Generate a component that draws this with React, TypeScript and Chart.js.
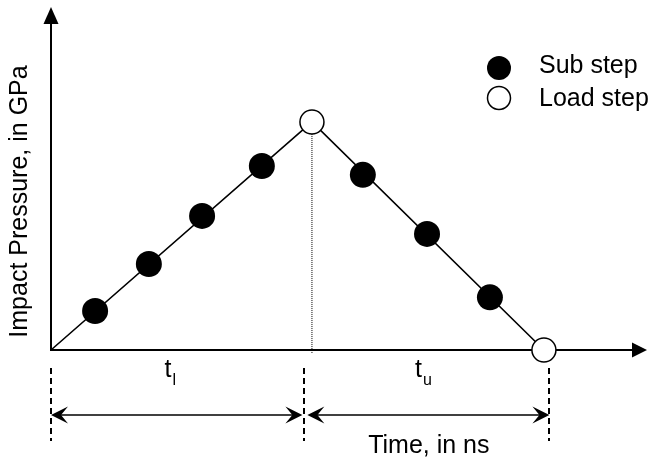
import React, { useEffect, useRef } from "react";
import { Chart, registerables } from "chart.js";

Chart.register(...registerables);

// Data (arbitrary units: time in ns-like units, pressure in GPa-like units)
const pathX = [0, 10, 18.89];
const pathY = [0, 10, 0];
const subStepX = [1.69, 3.75, 5.79, 8.08, 11.95, 14.41, 16.82];
const subStepY = [1.71, 3.77, 5.88, 8.07, 7.68, 5.09, 2.31];
const loadStepX = [10, 18.89];
const loadStepY = [10, 0];
const axisMax = { x: 22.84, y: 15.04 };
const dimensionBounds = [0, 9.71, 19.1];
const dimensionLabels = ["l", "u"];
const dimensionLabelX = [4.35, 13.95];
const legendLabels = ["Sub step", "Load step"];
const xAxisTitle = "Time, in ns";
const xAxisTitleX = 14.48;
const yAxisTitle = "Impact Pressure, in GPa";

const FONT = '"Liberation Sans", Arial, sans-serif';

function arrowHead(ctx: CanvasRenderingContext2D, tx: number, ty: number, dx: number, dy: number, len: number, half: number, notch: number) {
  const px = -dy, py = dx;
  ctx.beginPath();
  ctx.moveTo(tx, ty);
  ctx.lineTo(tx - dx * len + px * half, ty - dy * len + py * half);
  ctx.lineTo(tx - dx * notch, ty - dy * notch);
  ctx.lineTo(tx - dx * len - px * half, ty - dy * len - py * half);
  ctx.closePath();
  ctx.fill();
}

const decorPlugin = {
  id: "decor",
  beforeDatasetsDraw(chart: any) {
    const ctx = chart.ctx as CanvasRenderingContext2D;
    const xs = chart.scales.x, ys = chart.scales.y;
    const x0 = xs.getPixelForValue(0), y0 = ys.getPixelForValue(0);
    const xEnd = xs.getPixelForValue(axisMax.x), yEnd = ys.getPixelForValue(axisMax.y);
    ctx.save();
    ctx.strokeStyle = "#000";
    ctx.fillStyle = "#000";
    ctx.lineWidth = 2;
    ctx.beginPath();
    ctx.moveTo(x0, y0 + 1);
    ctx.lineTo(x0, yEnd + 10);
    ctx.stroke();
    arrowHead(ctx, x0, yEnd, 0, -1, 17, 7.5, 17);
    ctx.beginPath();
    ctx.moveTo(x0 - 1, y0);
    ctx.lineTo(xEnd - 10, y0);
    ctx.stroke();
    arrowHead(ctx, xEnd, y0, 1, 0, 15, 7.5, 15);
    const px = xs.getPixelForValue(loadStepX[0]);
    const py = ys.getPixelForValue(loadStepY[0]);
    ctx.lineWidth = 1;
    ctx.setLineDash([1, 1]);
    ctx.beginPath();
    ctx.moveTo(px, py);
    ctx.lineTo(px, y0 + 4);
    ctx.stroke();
    ctx.restore();
  },
  afterDraw(chart: any) {
    const ctx = chart.ctx as CanvasRenderingContext2D;
    const xs = chart.scales.x, ys = chart.scales.y;
    const y0 = ys.getPixelForValue(0);
    ctx.save();
    ctx.strokeStyle = "#000";
    ctx.fillStyle = "#000";
    ctx.lineWidth = 2;
    ctx.setLineDash([6, 4]);
    dimensionBounds.forEach((b) => {
      const bx = Math.round(xs.getPixelForValue(b));
      ctx.beginPath();
      ctx.moveTo(bx, y0 + 18);
      ctx.lineTo(bx, y0 + 91);
      ctx.stroke();
    });
    ctx.setLineDash([]);
    const ay = y0 + 65;
    for (let i = 0; i < dimensionBounds.length - 1; i++) {
      const a = xs.getPixelForValue(dimensionBounds[i]) + (i === 0 ? 0 : 3);
      const b = xs.getPixelForValue(dimensionBounds[i + 1]) - (i === 0 ? 2 : 0);
      ctx.lineWidth = 1.6;
      ctx.beginPath();
      ctx.moveTo(a + 8, ay);
      ctx.lineTo(b - 8, ay);
      ctx.stroke();
      arrowHead(ctx, a, ay, -1, 0, 17, 8.5, 10);
      arrowHead(ctx, b, ay, 1, 0, 17, 8.5, 10);
    }
    dimensionLabels.forEach((sub, i) => {
      const lx = xs.getPixelForValue(dimensionLabelX[i]);
      ctx.font = `25px ${FONT}`;
      ctx.textBaseline = "alphabetic";
      ctx.textAlign = "left";
      ctx.fillText("t", lx, y0 + 27);
      const tw = ctx.measureText("t").width;
      ctx.font = `16px ${FONT}`;
      ctx.fillText(sub, lx + tw + 1, y0 + 35);
    });
    ctx.font = `25px ${FONT}`;
    ctx.textAlign = "center";
    ctx.fillText(xAxisTitle, xs.getPixelForValue(xAxisTitleX), y0 + 103);
    ctx.save();
    ctx.translate(27, (ys.getPixelForValue(0) + ys.getPixelForValue(axisMax.y)) / 2 + 23);
    ctx.rotate(-Math.PI / 2);
    ctx.textAlign = "center";
    ctx.fillText(yAxisTitle, 0, 0);
    ctx.restore();
    const lgX = chart.chartArea.right - 148;
    const lgY = chart.chartArea.top + 61;
    const rows = 30;
    legendLabels.forEach((label, i) => {
      const cy = lgY + i * rows;
      ctx.beginPath();
      ctx.arc(lgX, cy, i === 0 ? 12 : 11.5, 0, Math.PI * 2);
      if (i === 0) {
        ctx.fillStyle = "#000";
        ctx.fill();
      } else {
        ctx.fillStyle = "#fff";
        ctx.fill();
        ctx.lineWidth = 1.5;
        ctx.strokeStyle = "#000";
        ctx.stroke();
      }
      ctx.fillStyle = "#000";
      ctx.font = `25px ${FONT}`;
      ctx.textAlign = "left";
      ctx.textBaseline = "alphabetic";
      ctx.fillText(label, lgX + 40, cy + 5 + (i === 1 ? 3 : 0));
    });
    ctx.restore();
  },
};

export default function App() {
  const ref = useRef<HTMLCanvasElement>(null);
  useEffect(() => {
    if (!ref.current) return;
    const chart = new Chart(ref.current, {
      type: "scatter",
      data: {
        datasets: [
          {
            label: "path",
            data: pathX.map((x, i) => ({ x, y: pathY[i] })),
            showLine: true,
            borderColor: "#000",
            borderWidth: 1.6,
            pointRadius: 0,
            clip: false as any,
            order: 3,
          },
          {
            label: legendLabels[0],
            data: subStepX.map((x, i) => ({ x, y: subStepY[i] })),
            backgroundColor: "#000",
            borderColor: "#000",
            borderWidth: 0,
            pointRadius: 13,
            clip: false as any,
            order: 1,
          },
          {
            label: legendLabels[1],
            data: loadStepX.map((x, i) => ({ x, y: loadStepY[i] })),
            backgroundColor: "#fff",
            borderColor: "#000",
            borderWidth: 1.5,
            pointRadius: 12,
            clip: false as any,
            order: 0,
          },
        ],
      },
      options: {
        animation: false,
        responsive: false,
        layout: { autoPadding: false, padding: { left: 51, top: 7, right: 1, bottom: 113 } },
        plugins: { legend: { display: false }, tooltip: { enabled: false } },
        scales: {
          x: { type: "linear", min: 0, max: axisMax.x, display: false },
          y: { type: "linear", min: 0, max: axisMax.y, display: false },
        },
      },
      plugins: [decorPlugin],
    });
    return () => chart.destroy();
  }, []);
  return (
    <div style={{ position: "fixed", left: 0, top: 0, width: 648, height: 463, background: "#fff" }}>
      <canvas ref={ref} width={648} height={463} />
    </div>
  );
}
